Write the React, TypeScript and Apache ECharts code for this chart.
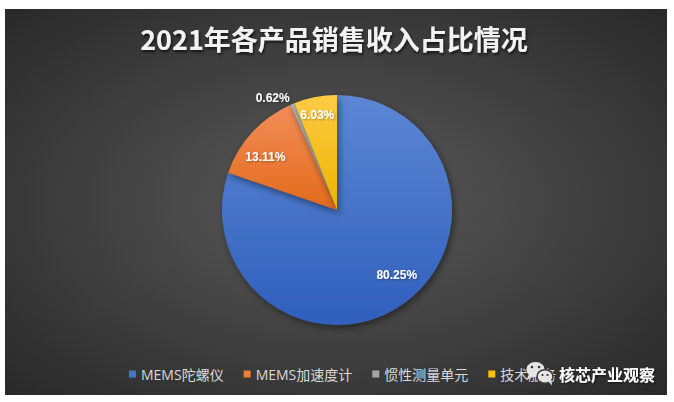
import React, { useEffect, useRef } from 'react';
import * as echarts from 'echarts';

// ---- data ----
const categories = ['MEMS陀螺仪', 'MEMS加速度计', '惯性测量单元', '技术服务'];
const shares = [80.25, 13.11, 0.62, 6.03];
const titleText = '2021年各产品销售收入占比情况';
const watermarkText = '核芯产业观察';

// ---- styles ----
const baseColors = ['#4472C4', '#ED7D31', '#A5A5A5', '#FFC000'];
const topColors = ['#5c87d4', '#f28d58', '#b3b3b3', '#ffcb45'];
const bottomColors = ['#2f5fbc', '#e36a1a', '#949494', '#ecb400'];
const labelPositions = ['inside', 'inside', 'outside', 'inside'];
const labelOffsets = [[8, -7], [-6, 7], [0, 0], [-3, -8]];

const CJK = '"Noto Sans CJK SC", "Noto Sans", sans-serif';
const LEGEND_FONT = '"Open Sans", "Noto Sans CJK SC", sans-serif';

export default function App() {
  const ref = useRef<HTMLDivElement>(null);
  useEffect(() => {
    if (!ref.current) return;
    const chart = echarts.init(ref.current, undefined, { renderer: 'svg' });
    const cx = 337;
    const cy = 210;
    const r = 115;

    const visibleData = categories.map((name, i) => ({
      name,
      value: shares[i],
      itemStyle: {
        color: {
          type: 'linear', x: 0, y: 0, x2: 0, y2: 1,
          colorStops: [
            { offset: 0, color: topColors[i] },
            { offset: 1, color: bottomColors[i] },
          ],
        },
      },
    }));

    const labelData = categories.map((name, i) => ({
      name,
      value: shares[i],
      label: {
        position: labelPositions[i],
        offset: labelOffsets[i],
      },
    }));

    chart.setOption({
      animation: false,
      graphic: [
        {
          type: 'rect',
          z: -10,
          shape: { x: 5, y: 9, width: 662, height: 386 },
          style: {
            fill: {
              type: 'radial', x: 0.5, y: 0.5, r: 0.75,
              colorStops: [
                { offset: 0, color: '#5a5a5a' },
                { offset: 1, color: '#262626' },
              ],
            },
          },
          silent: true,
        },
        // watermark icon
        { type: 'ellipse', z: 100, shape: { cx: 535.5, cy: 369.5, rx: 9, ry: 7.5 }, style: { fill: '#e6e6e6' } },
        { type: 'polygon', z: 100, shape: { points: [[529, 374], [526.5, 380], [533.5, 376.5]] }, style: { fill: '#e6e6e6' } },
        { type: 'circle', z: 101, shape: { cx: 532, cy: 367, r: 1.3 }, style: { fill: '#3a3a3a' } },
        { type: 'circle', z: 101, shape: { cx: 539, cy: 367, r: 1.3 }, style: { fill: '#3a3a3a' } },
        { type: 'ellipse', z: 102, shape: { cx: 545, cy: 376.5, rx: 8, ry: 6.8 }, style: { fill: '#e6e6e6', stroke: '#3a3a3a', lineWidth: 1.5 } },
        { type: 'polygon', z: 102, shape: { points: [[548, 381], [552, 385.5], [551.5, 380]] }, style: { fill: '#e6e6e6' } },
        { type: 'circle', z: 103, shape: { cx: 542.5, cy: 375, r: 1.1 }, style: { fill: '#3a3a3a' } },
        { type: 'circle', z: 103, shape: { cx: 547.5, cy: 375, r: 1.1 }, style: { fill: '#3a3a3a' } },
        {
          type: 'text', z: 100, x: 559, y: 374,
          style: {
            text: watermarkText,
            fill: '#ffffff',
            font: `bold 16px ${CJK}`,
            align: 'left',
            verticalAlign: 'middle',
            textShadowColor: 'rgba(0,0,0,0.6)',
            textShadowBlur: 2,
            textShadowOffsetX: 1,
            textShadowOffsetY: 1,
          },
        },
      ],
      title: {
        text: titleText,
        left: 334,
        textAlign: 'center',
        top: 22,
        padding: 0,
        textStyle: {
          color: '#f2f2f2',
          fontSize: 27,
          fontWeight: 'bold',
          fontFamily: CJK,
          lineHeight: 32,
          textShadowColor: 'rgba(0,0,0,0.7)',
          textShadowBlur: 3,
          textShadowOffsetX: 1,
          textShadowOffsetY: 2,
        },
      },
      legend: {
        data: categories.map((name, i) => ({ name, itemStyle: { color: baseColors[i] } })),
        icon: 'rect',
        itemWidth: 7,
        itemHeight: 7,
        itemGap: 20,
        left: 129,
        top: 366,
        padding: 0,
        textStyle: {
          color: '#d9d9d9',
          fontSize: 14,
          fontFamily: LEGEND_FONT,
          lineHeight: 16,
        },
      },
      series: [
        {
          type: 'pie',
          center: [cx, cy],
          radius: r,
          startAngle: 90,
          clockwise: true,
          silent: true,
          label: { show: false },
          labelLine: { show: false },
          itemStyle: {
            shadowBlur: 7,
            shadowOffsetX: 2,
            shadowOffsetY: 3,
            shadowColor: 'rgba(0,0,0,0.45)',
          },
          data: visibleData,
        },
        {
          type: 'pie',
          center: [cx, cy],
          radius: [57, r],
          startAngle: 90,
          clockwise: true,
          silent: true,
          z: 5,
          avoidLabelOverlap: false,
          itemStyle: { color: 'rgba(0,0,0,0)' },
          label: {
            show: true,
            color: '#ffffff',
            fontSize: 12,
            fontWeight: 'bold',
            fontFamily: '"Liberation Sans", Arial, sans-serif',
            distanceToLabelLine: 0,
            formatter: (p: any) => `${Number(p.value).toFixed(2)}%`,
            textShadowColor: 'rgba(0,0,0,0.35)',
            textShadowBlur: 2,
            textShadowOffsetX: 1,
            textShadowOffsetY: 1,
          },
          labelLine: { show: false, length: 7, length2: 0 },
          data: labelData,
        },
      ],
    });
    return () => chart.dispose();
  }, []);
  return (
    <div
      ref={ref}
      style={{ position: 'fixed', left: 0, top: 0, width: 674, height: 402, background: '#ffffff' }}
    />
  );
}
